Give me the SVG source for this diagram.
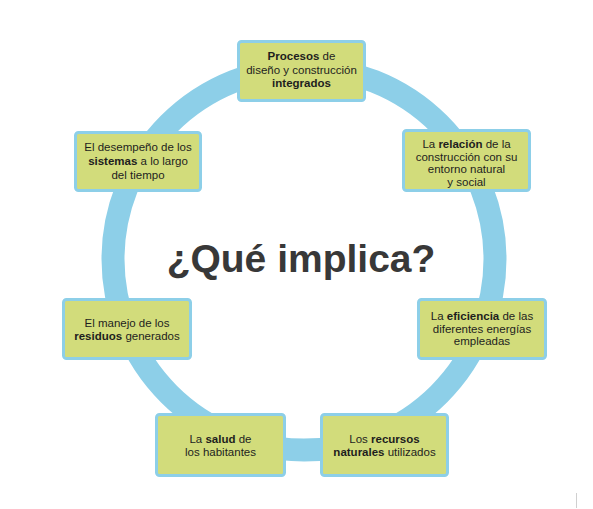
<svg xmlns="http://www.w3.org/2000/svg" width="593" height="509" viewBox="0 0 593 509">
<style>
.box{fill:#d2dc7b;stroke:#8dcfe8;stroke-width:3}
.t{font-family:"Liberation Sans",Arial,sans-serif;font-size:11.5px;fill:#1e1e1e;text-anchor:middle}
.b{font-weight:bold}
.title{font-family:"Liberation Sans",Arial,sans-serif;font-size:39px;font-weight:bold;fill:#383838;text-anchor:middle}
</style>
<rect width="593" height="509" fill="#ffffff"/>
<g id="connectors">
<circle cx="304" cy="259" r="191" fill="none" stroke="#8dcfe8" stroke-width="23"/>
</g>
<text class="title" x="301" y="272">¿Qué implica?</text>
<g id="n1">
<rect class="box" x="238.5" y="41.5" width="126" height="59" rx="3"/>
<text class="t" x="301.5" y="60"><tspan class="b">Procesos</tspan> de</text>
<text class="t" x="301.5" y="73.5">diseño y construcción</text>
<text class="t b" x="301.5" y="87">integrados</text>
</g>
<g id="n2">
<rect class="box" x="403.5" y="130.5" width="126" height="60" rx="3"/>
<text class="t" x="466.5" y="148"><tspan>La </tspan><tspan class="b">relación</tspan><tspan> de la</tspan></text>
<text class="t" x="466.5" y="160.5">construcción con su</text>
<text class="t" x="466.5" y="173">entorno natural</text>
<text class="t" x="466.5" y="185.5">y social</text>
</g>
<g id="n3">
<rect class="box" x="75.5" y="132.5" width="125" height="58" rx="3"/>
<text class="t" x="138" y="151">El desempeño de los</text>
<text class="t" x="138" y="165"><tspan class="b">sistemas</tspan> a lo largo</text>
<text class="t" x="138" y="178.5">del tiempo</text>
</g>
<g id="n4">
<rect class="box" x="63.5" y="299.5" width="127" height="59" rx="3"/>
<text class="t" x="127" y="327">El manejo de los</text>
<text class="t" x="127" y="340"><tspan class="b">residuos</tspan> generados</text>
</g>
<g id="n5">
<rect class="box" x="418.5" y="299.5" width="127" height="59" rx="3"/>
<text class="t" x="482" y="320"><tspan>La </tspan><tspan class="b">eficiencia</tspan><tspan> de las</tspan></text>
<text class="t" x="482" y="332.5">diferentes energías</text>
<text class="t" x="482" y="345">empleadas</text>
</g>
<g id="n6">
<rect class="box" x="156.5" y="414.5" width="128" height="61" rx="3"/>
<text class="t" x="220.5" y="443">La <tspan class="b">salud</tspan> de</text>
<text class="t" x="220.5" y="456">los habitantes</text>
</g>
<g id="n7">
<rect class="box" x="321.5" y="414.5" width="126" height="61" rx="3"/>
<text class="t" x="384.5" y="443">Los <tspan class="b">recursos</tspan></text>
<text class="t" x="384.5" y="456"><tspan class="b">naturales</tspan> utilizados</text>
</g>
<line x1="576.5" y1="493" x2="576.5" y2="508" stroke="#d0d0d0" stroke-width="1"/>
</svg>
